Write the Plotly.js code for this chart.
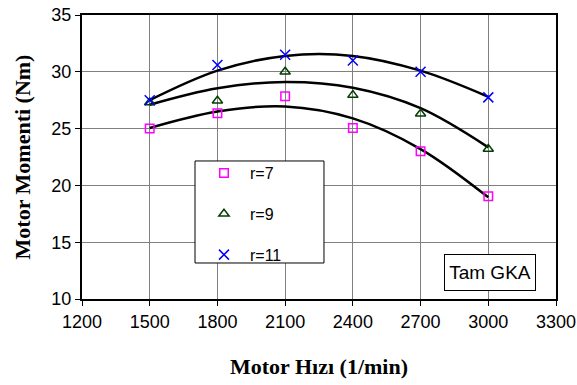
<!DOCTYPE html>
<html><head><meta charset="utf-8">
<script src="https://cdn.plot.ly/plotly-3.0.1.min.js"></script>
<style>html,body{margin:0;padding:0;background:#fff}#c{width:577px;height:385px}</style>
</head><body><div id="c"></div>
<script>
const speeds = [1500, 1800, 2100, 2400, 2700, 3000];
const r7 = [25.0, 26.35, 27.85, 25.05, 23.0, 19.05];
const r9 = [27.3, 27.45, 30.0, 27.95, 26.3, 23.2];
const r11 = [27.5, 30.6, 31.5, 31.0, 30.0, 27.75];
const fit7 = [25.05, 26.5, 26.95, 25.9, 23.2, 18.95];
const fit9 = [27.1, 28.55, 29.1, 28.6, 26.8, 23.35];
const fit11 = [27.5, 30.1, 31.4, 31.4, 30.1, 27.8];
const names = ['r=7', 'r=9', 'r=11'];
const xTicks = [1200, 1500, 1800, 2100, 2400, 2700, 3000, 3300];
const yTicks = [10, 15, 20, 25, 30, 35];

const fitLine = (y) => ({x: speeds, y: y, mode: 'lines', line: {color: '#000', width: 2.5, shape: 'spline'}, showlegend: false, hoverinfo: 'skip'});
const traces = [
  fitLine(fit7), fitLine(fit9), fitLine(fit11),
  {x: speeds, y: r7, name: names[0], legendgroup: 'a', mode: 'markers', marker: {symbol: 'square-open', size: 8.5, color: '#FF00FF', line: {width: 1.5}}},
  {x: speeds, y: r9, name: names[1], legendgroup: 'b', mode: 'markers', marker: {symbol: 'triangle-up-open', size: 9, color: '#004000', line: {width: 1.5}}},
  {x: speeds, y: r11, name: names[2], legendgroup: 'c', mode: 'markers', marker: {symbol: 'x-thin-open', size: 10, color: '#0000FF', line: {width: 1.5, color: '#0000FF'}}}
];
const axBase = {showline: true, linecolor: '#000', linewidth: 2, mirror: true, showgrid: true, gridcolor: '#808080', gridwidth: 1, zeroline: false, ticks: 'outside', ticklen: 5, tickcolor: '#000', tickfont: {family: 'Liberation Sans, Arial, sans-serif', size: 18, color: '#000'}};
const layout = {
  width: 577, height: 385,
  margin: {l: 82, r: 21, t: 15, b: 86},
  paper_bgcolor: '#fff', plot_bgcolor: '#fff',
  xaxis: Object.assign({}, axBase, {range: [1200, 3300], tickvals: xTicks, ticktext: xTicks.map(String),
    title: {text: 'Motor Hızı (1/min)', standoff: 28, font: {family: 'Liberation Serif, Times New Roman, serif', size: 22, color: '#000', weight: 'bold'}}}),
  yaxis: Object.assign({}, axBase, {range: [10, 35], tickvals: yTicks, ticktext: yTicks.map(String),
    title: {text: 'Motor Momenti (Nm)', standoff: 15, font: {family: 'Liberation Serif, Times New Roman, serif', size: 22, color: '#000', weight: 'bold'}}}),
  showlegend: true,
  legend: {x: 0.2447, y: 0.503, xanchor: 'left', yanchor: 'top', bgcolor: 'rgba(0,0,0,0)', borderwidth: 0,
    traceorder: 'grouped', tracegroupgap: 17, itemwidth: 42,
    font: {family: 'Liberation Sans, Arial, sans-serif', size: 16, color: '#000'}},
  shapes: [{type: 'rect', xref: 'paper', yref: 'paper', x0: 0.2384, x1: 0.5105, y0: 0.1268, y1: 0.486,
    line: {color: '#000', width: 1}, fillcolor: '#fff', layer: 'above'}],
  annotations: [{xref: 'paper', yref: 'paper', x: 0.86, y: 0.0933, xanchor: 'center', yanchor: 'middle',
    text: 'Tam GKA', showarrow: false, bgcolor: '#fff', bordercolor: '#000', borderwidth: 1, borderpad: 1,
    width: 88, height: 33, font: {family: 'Liberation Sans, Arial, sans-serif', size: 19, color: '#000'}}]
};
Plotly.newPlot('c', traces, layout, {displayModeBar: false, staticPlot: true});
</script></body></html>
